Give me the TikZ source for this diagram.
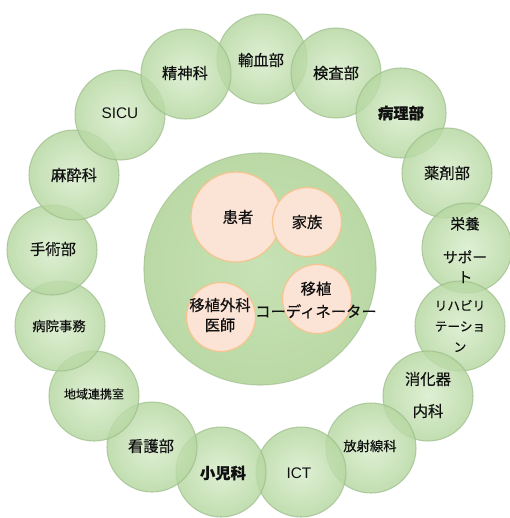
\documentclass[tikz,border=0pt]{standalone}
\usepackage{fontspec}
\setmainfont{Noto Sans CJK JP}[FakeBold=0.35]
\newfontfamily\latinsans{Liberation Sans}
\definecolor{ringIn}{HTML}{D8EDCB}
\definecolor{ringOut}{HTML}{B5D7A0}
\definecolor{ringLine}{HTML}{9CBC8B}
\definecolor{bigIn}{HTML}{C7E2B5}
\definecolor{bigOut}{HTML}{BAD9A5}
\definecolor{peachFill}{HTML}{FBE3D6}
\definecolor{peachLine}{HTML}{F6C48E}
\definecolor{txt}{HTML}{111111}
\begin{document}
\begin{tikzpicture}[x=0.75pt,y=-0.75pt,
  dept/.style={circle, minimum size=67.5pt, inner sep=0pt,
    inner color=ringIn, outer color=ringOut, fill opacity=0.82,
    draw=ringLine, draw opacity=0.7, line width=0.8pt},
  hub/.style={circle, minimum size=174pt, inner sep=0pt,
    inner color=bigIn, outer color=bigOut, draw=ringLine, draw opacity=0.6, line width=0.8pt},
  peach/.style={circle, inner sep=0pt, fill=peachFill, draw=peachLine, line width=0.9pt},
  lbl/.style={text=txt, align=center, inner sep=0pt, font=\fontsize{11.5}{14}\selectfont},
  latin/.style={lbl, font=\fontsize{11.5}{14}\selectfont\latinsans},
  small/.style={lbl, font=\fontsize{10}{12}\selectfont},
  tiny/.style={lbl, font=\fontsize{9}{11}\selectfont},
  boldlbl/.style={lbl, font=\fontsize{11.5}{14}\selectfont\bfseries}]
\useasboundingbox (0,0) rectangle (510,518);
\fill[white] (0,0) rectangle (510,518);
% ring of departments
\node[dept] (c1) at (262,59) {};
\node[dept] (c2) at (336,73) {};
\node[dept] (c3) at (401,113) {};
\node[dept] (c4) at (447,173) {};
\node[dept] (c5) at (467,248) {};
\node[dept] (c6) at (460,326) {};
\node[dept] (c7) at (428,396) {};
\node[dept] (c8) at (371,448) {};
\node[dept] (c9) at (301,472) {};
\node[dept] (c10) at (221,472) {};
\node[dept] (c11) at (152,447) {};
\node[dept] (c12) at (94,396) {};
\node[dept] (c13) at (60,326) {};
\node[dept] (c14) at (52,250) {};
\node[dept] (c15) at (74,175) {};
\node[dept] (c16) at (120,115) {};
\node[dept] (c17) at (186,74) {};
% central team
\node[hub] (hub) at (260,269) {};
\node[peach, minimum size=67.5pt] (p1) at (236,217) {};
\node[peach, minimum size=51.75pt] (p2) at (307,222) {};
\node[peach, minimum size=51.75pt] (p3) at (317,299) {};
\node[peach, minimum size=51.75pt] (p4) at (221,317) {};
% labels
\node[lbl] (t1) at (261,60) {輸血部};
\node[lbl] (t2) at (336,73) {検査部};
\node[boldlbl] (t3) at (401,113) {病理部};
\node[lbl] (t4) at (447,173) {薬剤部};
\node[lbl, font=\fontsize{11}{15}\selectfont] (t5) at (465,250) {栄養\\[10pt]サポー\\ト};
\node[lbl, font=\fontsize{9.5}{15.5}\selectfont] (t6) at (460,326) {リハビリ\\テーショ\\ン};
\node[lbl, font=\fontsize{11.5}{24}\selectfont] (t7) at (428,395) {消化器\\内科};
\node[small] (t8) at (370,446) {放射線科};
\node[latin] (t9) at (299,473) {ICT};
\node[boldlbl] (t10) at (223,473) {小児科};
\node[lbl] (t11) at (151,446) {看護部};
\node[tiny] (t12) at (94,394) {地域連携室};
\node[small] (t13) at (59,326) {病院事務};
\node[lbl] (t14) at (53,249) {手術部};
\node[lbl] (t15) at (74,175) {麻酔科};
\node[latin] (t16) at (120,113) {SICU};
\node[lbl] (t17) at (185,73) {精神科};
\node[lbl] (u1) at (238,217) {患者};
\node[lbl] (u2) at (307,222) {家族};
\node[lbl, font=\fontsize{11.5}{17}\selectfont] (u3) at (316,300) {移植\\コーディネーター};
\node[lbl, font=\fontsize{11.5}{15}\selectfont] (u4) at (220,315) {移植外科\\医師};
\end{tikzpicture}
\end{document}
